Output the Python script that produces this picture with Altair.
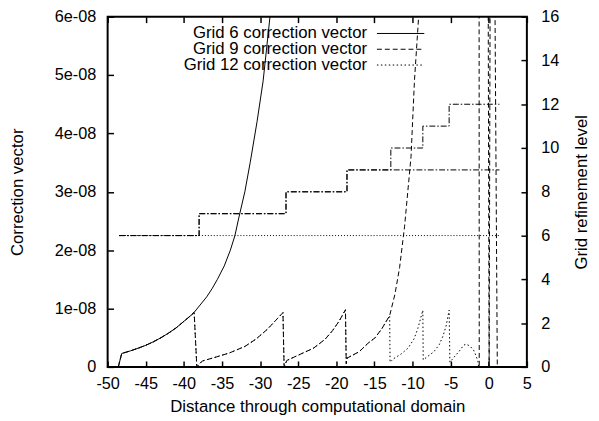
import altair as alt
import pandas as pd

# ---------------- data ----------------
x_ticks = [-50, -45, -40, -35, -30, -25, -20, -15, -10, -5, 0, 5]
cv_ticks = [0, 1e-8, 2e-8, 3e-8, 4e-8, 5e-8, 6e-8]
lvl_ticks = [0, 2, 4, 6, 8, 10, 12, 14, 16]

series_names = ["Grid 6 correction vector", "Grid 9 correction vector", "Grid 12 correction vector"]

# Grid 6 correction vector (solid)
g6_x = [-48.6, -48.15, -47.0, -46.0, -45.0, -44.0, -43.0, -42.0, -41.0, -40.0, -39.0,
        -38.65, -37.0, -36.3, -35.6, -34.7, -33.9, -33.3, -32.8, -32.0, -31.3, -30.4,
        -29.6, -28.7, -27.8]
g6_y = [0, 2.3e-9, 2.75e-9, 3.2e-9, 3.7e-9, 4.3e-9, 5.0e-9, 5.8e-9, 6.7e-9, 7.8e-9, 8.9e-9,
        9.35e-9, 12.0e-9, 13.4e-9, 15.0e-9, 17.3e-9, 20.0e-9, 22.5e-9, 25.5e-9, 30e-9, 35e-9, 42e-9,
        49e-9, 60e-9, 72e-9]

# Grid 9 correction vector (dashed): same as grid 6 up to x=-38.65, then its own values
g9_own_x = [-38.3, -37.6, -36.0, -34.0, -32.0, -30.5, -29.0, -28.0, -27.0,
            -26.85, -26.5, -25.0, -23.0, -21.5, -20.5, -19.6, -18.8,
            -18.7, -18.6, -17.0, -15.8, -14.9, -14.0, -13.0, -12.3, -11.7, -11.05,
            -10.2, -9.75, -9.2, -8.7, -1.27, -1.25]
g9_own_y = [0, 1.0e-9, 1.6e-9, 2.4e-9, 3.5e-9, 4.8e-9, 6.5e-9, 7.9e-9, 9.3e-9,
            0, 1.1e-9, 2.0e-9, 3.2e-9, 4.7e-9, 6.2e-9, 7.9e-9, 9.8e-9,
            0.5e-9, 1.5e-9, 2.6e-9, 4.1e-9, 5.0e-9, 6.6e-9, 8.8e-9, 12.5e-9, 17e-9, 24e-9,
            36e-9, 49e-9, 60e-9, 75e-9, 75e-9, 0]
# Grid 9 again, after it leaves the top of the plot (second visible piece)
g9_tail_x = [-0.1, 0.05, 0.2, 0.75, 1.12]
g9_tail_y = [75e-9, 0, 75e-9, 75e-9, 0]

# Grid 12 correction vector (dotted): same as grid 9 up to x=-13.0, then its own values
g12_own_x = [-12.95, -12.5, -11.5, -10.6, -9.8, -9.3, -8.65,
             -8.6, -8.0, -7.2, -6.5, -6.0, -5.6, -5.2,
             -5.1, -4.6, -3.9, -3.3, -3.0, -2.5, -2.0, -1.7, -1.43, -1.33]
g12_own_y = [0.8e-9, 1.4e-9, 2.2e-9, 3.2e-9, 4.8e-9, 6.6e-9, 9.7e-9,
             1.2e-9, 1.8e-9, 2.6e-9, 3.8e-9, 5.3e-9, 7.0e-9, 9.7e-9,
             0.8e-9, 1.6e-9, 2.65e-9, 3.7e-9, 3.9e-9, 3.6e-9, 2.9e-9, 2.0e-9, 1.0e-9, 0]

# Grid refinement levels (right axis), step functions
lv6_x = [-48.5, 1.4]
lv6_y = [6, 6]
lv9_x = [-48.5, -38.0, -26.6, -18.6, 1.4]
lv9_y = [6, 7, 8, 9, 9]
lv12_x = [-48.5, -38.0, -26.6, -18.6, -12.85, -8.65, -5.2, 1.4]
lv12_y = [6, 7, 8, 9, 10, 11, 12, 12]

# ---------------- assemble ----------------
n6 = g6_x.index(-38.65) + 1
g9_x = g6_x[:n6] + g9_own_x
g9_y = g6_y[:n6] + g9_own_y
n9 = g9_x.index(-13.0) + 1
g12_x = g9_x[:n9] + g12_own_x
g12_y = g9_y[:n9] + g12_own_y


def df(pieces):
    rows = []
    for seg, (xs, ys) in enumerate(pieces):
        for i, (xv, yv) in enumerate(zip(xs, ys)):
            rows.append({"x": xv, "y": yv, "order": i, "seg": seg})
    return pd.DataFrame(rows)


FONT = "Liberation Sans"
FS = 17
TFS = 16.5

x_scale = alt.Scale(domain=[-50, 5], nice=False, zero=False)
cv_scale = alt.Scale(domain=[0, 6e-8], nice=False, zero=False)
lvl_scale = alt.Scale(domain=[0, 16], nice=False, zero=False)

x_axis_bottom = alt.Axis(
    orient="bottom", values=x_ticks, labelExpr="'' + datum.value", offset=-6, tickSize=6,
    labelPadding=9, labelFlush=False, labelOverlap=False,
    title="Distance through computational domain", titleX=212.5, titleY=46,
    titleBaseline="middle", titleAlign="center")
x_axis_top = alt.Axis(
    orient="top", values=x_ticks, offset=-6, tickSize=6, labels=False, title=None)
y_axis_left = alt.Axis(
    orient="left", values=cv_ticks, offset=-6, tickSize=6, labelPadding=12,
    labelOverlap=False, labelFlush=False,
    labelExpr="datum.value == 0 ? '0' : round(datum.value * 1e8) + 'e-08'",
    title="Correction vector", titleX=-97, titleY=177.5, titleAngle=270,
    titleBaseline="middle", titleAlign="center")
y_axis_right = alt.Axis(
    orient="right", values=lvl_ticks, offset=-6, tickSize=6, labelPadding=14,
    labelOverlap=False, labelFlush=False, labelExpr="'' + datum.value",
    title="Grid refinement level", titleX=61, titleY=177.5, titleAngle=270,
    titleBaseline="middle", titleAlign="center")

dashes = [None, [5, 3], [1.5, 2.5]]


def cv_line(pieces, dash):
    kw = {"color": "black", "strokeWidth": 1, "clip": True}
    if dash:
        kw["strokeDash"] = dash
    return alt.Chart(df(pieces)).mark_line(**kw).encode(
        x=alt.X("x:Q", scale=x_scale, axis=x_axis_bottom),
        y=alt.Y("y:Q", scale=cv_scale, axis=y_axis_left),
        detail="seg:N",
        order="order:Q")


def lvl_line(xs, ys, dash):
    return alt.Chart(df([(xs, ys)])).mark_line(
        color="black", strokeWidth=1, strokeDash=dash, interpolate="step-after", clip=True
    ).encode(
        x=alt.X("x:Q", scale=x_scale, axis=x_axis_top),
        y=alt.Y("y:Q", scale=lvl_scale, axis=y_axis_right),
        order="order:Q")


legend_rows = [17, 33, 49]
legend_layers = []
for name, dash, yy in zip(series_names, dashes, legend_rows):
    d = pd.DataFrame({"name": [name]})
    legend_layers.append(
        alt.Chart(d).mark_text(align="right", baseline="middle", font=FONT, fontSize=FS,
                               color="black").encode(
            x=alt.value(263), y=alt.value(yy), text="name:N"))
    kw = {"color": "black", "strokeWidth": 1}
    if dash:
        kw["strokeDash"] = dash
    legend_layers.append(
        alt.Chart(d).mark_rule(**kw).encode(
            x=alt.value(273), x2=alt.value(321), y=alt.value(yy)))

group_cv = alt.layer(
    cv_line([(g6_x, g6_y)], dashes[0]),
    cv_line([(g9_x, g9_y), (g9_tail_x, g9_tail_y)], dashes[1]),
    cv_line([(g12_x, g12_y)], dashes[2]),
    *legend_layers,
)

group_lvl = alt.layer(
    lvl_line(lv6_x, lv6_y, [1, 2]),
    lvl_line(lv9_x, lv9_y, [6, 2, 1.5, 2]),
    lvl_line(lv12_x, lv12_y, [6, 2, 1.5, 2]),
)

chart = alt.layer(group_cv, group_lvl).resolve_scale(
    y="independent"
).resolve_axis(
    x="independent", y="independent"
).properties(
    width=425, height=355,
    autosize=alt.AutoSizeParams(type="none"),
    padding={"left": 101, "top": 6, "right": 65, "bottom": 50},
    background="white",
).configure_view(
    stroke="black", strokeWidth=2
).configure_axis(
    labelFont=FONT, titleFont=FONT, labelFontSize=TFS, titleFontSize=FS,
    labelColor="black", titleColor="black", tickColor="black", tickWidth=1.5,
    titleFontWeight="normal", grid=False, domain=False
)

chart.save("out.html", embed_options={"renderer": "svg", "actions": False})
